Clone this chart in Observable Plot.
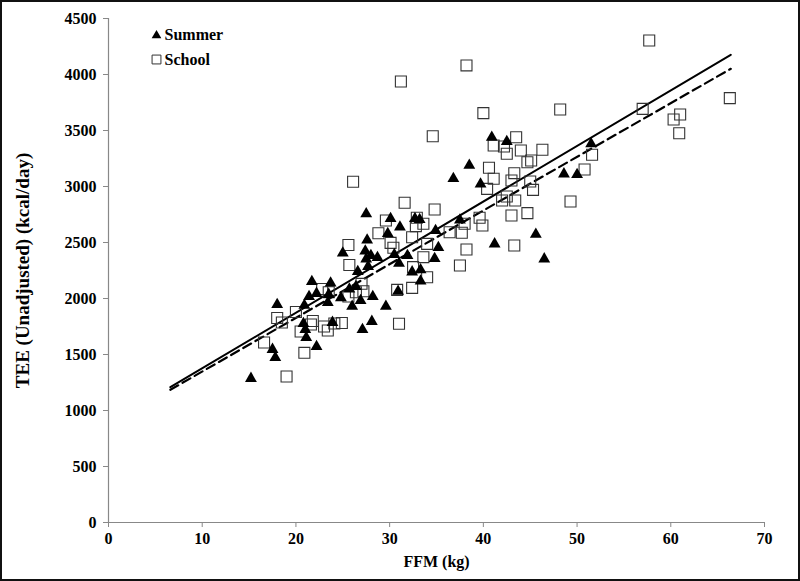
<!DOCTYPE html>
<html><head><meta charset="utf-8">
<script src="https://cdn.jsdelivr.net/npm/d3@7"></script>
<script src="https://cdn.jsdelivr.net/npm/@observablehq/plot@0.6"></script>
<style>
body{margin:0;background:#fff}
#wrap{position:relative;width:800px;height:581px;overflow:hidden}
#wrap .border{position:absolute;left:0;top:0;width:800px;height:581px;box-sizing:border-box;border:2px solid #111;pointer-events:none}
</style></head><body><div id="wrap"><div class="border"></div></div>
<script>
// Summer (filled triangles)
const summerFFM = [15.2,18.0,17.5,17.8,20.9,20.8,21.0,21.1,21.7,21.4,22.2,22.2,23.7,23.5,23.4,23.9,24.8,25.0,25.7,26.0,26.4,26.6,26.9,27.1,27.4,27.5,27.6,27.5,27.7,28.0,28.1,28.2,28.7,29.6,29.8,30.1,30.5,30.9,31.1,31.0,31.9,32.4,32.7,33.2,33.3,33.3,34.9,35.2,34.8,37.5,36.8,38.5,39.7,40.9,42.5,41.2,45.6,46.5,48.6,50.0,51.5];
const summerTEE = [1286,1946,1545,1473,1938,1777,1723,1652,2152,2018,2045,1571,2138,2036,1964,1786,2005,2406,2085,1929,2107,2241,1982,1723,2424,2353,2522,2755,2286,2384,1795,2018,2366,1929,2580,2714,2393,2063,2638,2313,2384,2237,2714,2705,2255,2156,2607,2455,2357,2701,3071,3188,3022,3438,3402,2487,2572,2353,3112,3107,3380];
// School (open squares)
const schoolFFM = [16.6,18.0,18.5,19.0,20.0,20.9,20.5,21.6,21.8,23.0,23.4,22.8,24.1,24.9,25.7,25.6,25.6,26.1,26.4,27.2,27.0,28.8,29.6,30.1,30.4,30.8,31.0,31.2,31.6,32.4,32.9,32.8,32.5,32.4,33.6,34.0,33.6,34.0,34.6,34.8,36.4,37.5,37.7,38.0,38.2,38.2,39.6,39.9,40.0,40.4,40.6,41.1,41.1,42.2,42.5,42.5,42.0,43.0,43.0,43.3,43.3,43.5,43.4,44.0,44.7,45.1,44.7,45.0,45.3,46.3,48.2,49.3,50.8,51.6,57.0,57.7,60.3,61.0,60.9,66.3,23.5];
const schoolTEE = [1607,1826,1786,1304,1880,1515,1705,1768,1799,1750,1714,2085,1777,1781,2299,2478,2018,3042,2056,2065,2131,2583,2697,2497,2453,2077,1774,3938,2855,2547,2721,2646,2280,2095,2667,2488,2369,2190,3449,2795,2592,2295,2587,2667,2438,4081,2721,2652,3655,2979,3167,3366,3069,3357,3292,2911,2875,2741,3054,3119,2473,3440,2875,3322,3217,3232,2762,3045,2970,3328,3688,2866,3152,3283,3693,4304,3598,3643,3476,3789,2056];
// Fitted lines (end points)
const fitFFM = [6.6, 66.4];
const fitSolidTEE = [1208, 4176];
const fitDashedTEE = [1185, 4051];
// Ticks and labels
const xTicks = [0,10,20,30,40,50,60,70];
const yTicks = [0,500,1000,1500,2000,2500,3000,3500,4000,4500];
const legendLabels = ["Summer", "School"];
const xLabel = "FFM (kg)";
const yLabel = "TEE (Unadjusted) (kcal/day)";

const summer = summerFFM.map((x, i) => ({x, y: summerTEE[i]}));
const school = schoolFFM.map((x, i) => ({x, y: schoolTEE[i]}));
const solid = fitFFM.map((x, i) => ({x, y: fitSolidTEE[i]}));
const dashed = fitFFM.map((x, i) => ({x, y: fitDashedTEE[i]}));

const chart = Plot.plot({
  width: 800, height: 581,
  marginLeft: 108, marginRight: 36, marginTop: 18, marginBottom: 59,
  style: {fontFamily: "'Liberation Serif', 'Times New Roman', serif", fontSize: "16px", fontWeight: "bold", color: "#000", background: "transparent", overflow: "visible"},
  x: {domain: [0, 70]},
  y: {domain: [0, 4500]},
  marks: [
    Plot.ruleY([0], {stroke: "#888", strokeWidth: 1.2}),
    Plot.ruleX([0], {stroke: "#888", strokeWidth: 1.2}),
    Plot.axisX({ticks: xTicks, tickFormat: d3.format("d"), tickSize: 5, tickPadding: 5, stroke: "#888", fill: "#000", label: xLabel, labelAnchor: "center", labelArrow: "none", labelOffset: 44}),
    Plot.axisY({ticks: yTicks, tickFormat: d3.format("d"), tickSize: 5, tickPadding: 7, stroke: "#888", fill: "#000", label: null}),
    Plot.text([yLabel], {frameAnchor: "left", dx: -86, rotate: -90, fontSize: 19, fontWeight: "bold", fill: "#000", textAnchor: "middle", lineAnchor: "middle"}),
    Plot.line(solid, {x: "x", y: "y", stroke: "#000", strokeWidth: 2}),
    Plot.line(dashed, {x: "x", y: "y", stroke: "#000", strokeWidth: 2.2, strokeDasharray: "9,5"}),
    Plot.dot(school, {x: "x", y: "y", symbol: "square", r: 6.2, stroke: "#333", strokeWidth: 1.1, fill: "none"}),
    Plot.dot(summer, {x: "x", y: "y", symbol: "triangle", r: 4.4, fill: "#000", stroke: "none"}),
    // legend
    Plot.dot([legendLabels[0]], {frameAnchor: "top-left", dx: 48, dy: 17, symbol: "triangle", r: 3.6, fill: "#000", stroke: "none"}),
    Plot.dot([legendLabels[1]], {frameAnchor: "top-left", dx: 48, dy: 41, symbol: "square", r: 5, stroke: "#333", strokeWidth: 1, fill: "none"}),
    Plot.text([legendLabels[0]], {frameAnchor: "top-left", dx: 56, dy: 16, textAnchor: "start", lineAnchor: "middle", fontSize: 16, fontWeight: "bold", fill: "#000"}),
    Plot.text([legendLabels[1]], {frameAnchor: "top-left", dx: 56, dy: 41, textAnchor: "start", lineAnchor: "middle", fontSize: 16, fontWeight: "bold", fill: "#000"})
  ]
});
document.getElementById("wrap").prepend(chart);
</script>
</body></html>
